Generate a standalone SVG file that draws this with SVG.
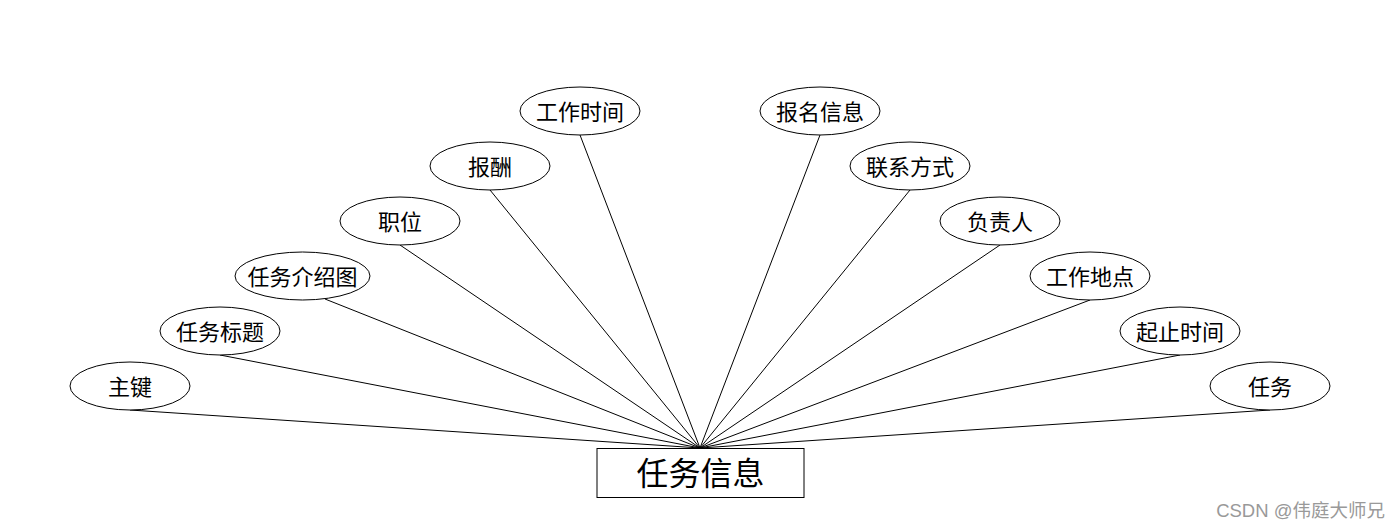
<svg xmlns="http://www.w3.org/2000/svg" width="1400" height="528" viewBox="0 0 1400 528">
<style>
.e{fill:#fff;stroke:#000;stroke-width:1}
.t{font-family:"Noto Sans CJK SC","Liberation Sans",sans-serif;font-size:22px;fill:#000;text-anchor:middle;dominant-baseline:central}
.c line{stroke:#000;stroke-width:1}
</style>
<rect width="1400" height="528" fill="#fff"/>
<g class="c" id="connectors">
<line x1="130" y1="410" x2="700" y2="448"/>
<line x1="220" y1="355" x2="700" y2="448"/>
<line x1="325" y1="299" x2="700" y2="448"/>
<line x1="400" y1="245" x2="700" y2="448"/>
<line x1="490" y1="190" x2="700" y2="448"/>
<line x1="580" y1="135" x2="700" y2="448"/>
<line x1="820" y1="135" x2="700" y2="448"/>
<line x1="910" y1="190" x2="700" y2="448"/>
<line x1="1000" y1="245" x2="700" y2="448"/>
<line x1="1090" y1="300" x2="700" y2="448"/>
<line x1="1180" y1="355" x2="700" y2="448"/>
<line x1="1270" y1="410" x2="700" y2="448"/>
</g>
<g id="n1"><ellipse class="e" cx="130" cy="386" rx="60" ry="24"/><text class="t" x="130" y="385">主键</text></g>
<g id="n2"><ellipse class="e" cx="220" cy="331" rx="60" ry="24"/><text class="t" x="220" y="330">任务标题</text></g>
<g id="n3"><ellipse class="e" cx="302.5" cy="276" rx="67.5" ry="24"/><text class="t" x="302.5" y="275">任务介绍图</text></g>
<g id="n4"><ellipse class="e" cx="400" cy="221" rx="60" ry="24"/><text class="t" x="400" y="220">职位</text></g>
<g id="n5"><ellipse class="e" cx="490" cy="166" rx="60" ry="24"/><text class="t" x="490" y="165">报酬</text></g>
<g id="n6"><ellipse class="e" cx="580" cy="111" rx="60" ry="24"/><text class="t" x="580" y="110">工作时间</text></g>
<g id="n7"><ellipse class="e" cx="820" cy="111" rx="60" ry="24"/><text class="t" x="820" y="110">报名信息</text></g>
<g id="n8"><ellipse class="e" cx="910" cy="166" rx="60" ry="24"/><text class="t" x="910" y="165">联系方式</text></g>
<g id="n9"><ellipse class="e" cx="1000" cy="221" rx="60" ry="24"/><text class="t" x="1000" y="220">负责人</text></g>
<g id="n10"><ellipse class="e" cx="1090" cy="276" rx="60" ry="24"/><text class="t" x="1090" y="275">工作地点</text></g>
<g id="n11"><ellipse class="e" cx="1180" cy="331" rx="60" ry="24"/><text class="t" x="1180" y="330">起止时间</text></g>
<g id="n12"><ellipse class="e" cx="1270" cy="386" rx="60" ry="24"/><text class="t" x="1270" y="385">任务</text></g>
<g id="entity"><rect x="597" y="448.5" width="207" height="49" fill="#fff" stroke="#000" stroke-width="1"/><text class="t" x="700.5" y="471" style="font-size:32px">任务信息</text></g>
<text x="1385" y="517" style="font-family:'Liberation Sans','Noto Sans CJK SC',sans-serif;font-size:18.5px;fill:#999;text-anchor:end">CSDN @伟庭大师兄</text>
</svg>
